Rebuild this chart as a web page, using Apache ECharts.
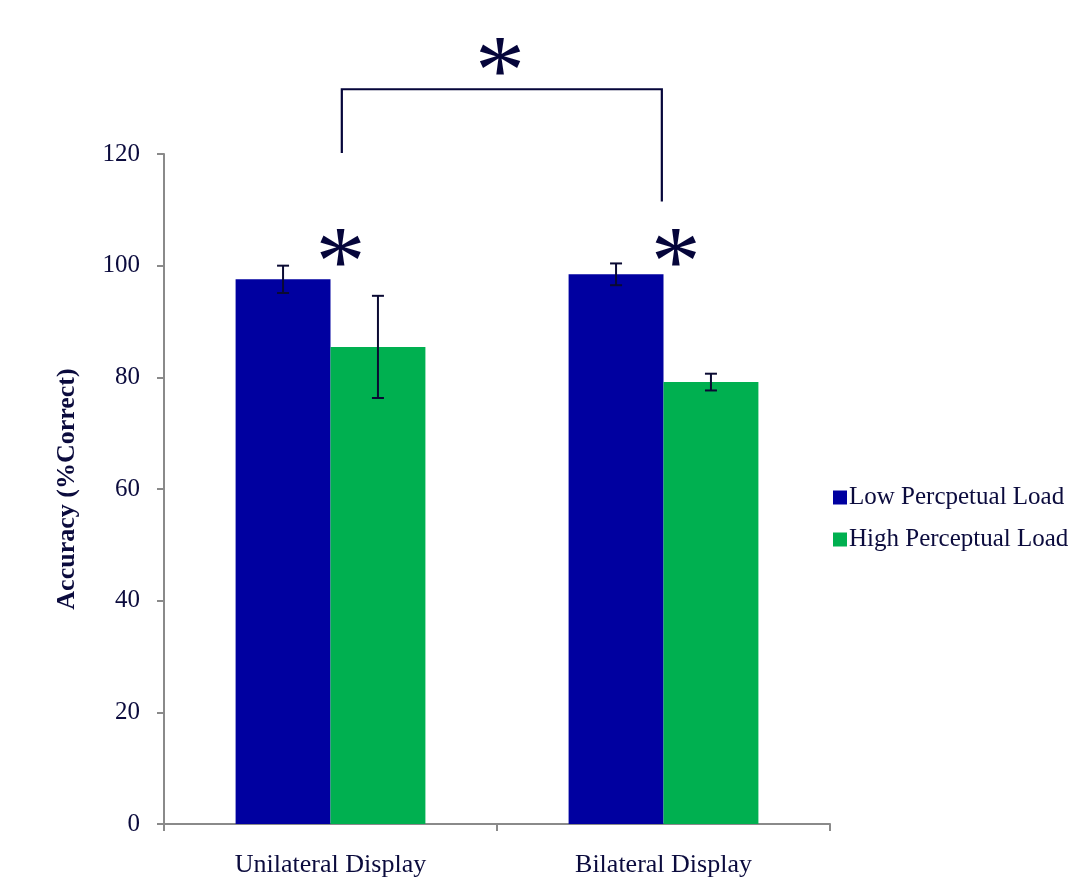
<!DOCTYPE html>
<html>
<head>
<meta charset="utf-8">
<style>
  html, body { margin: 0; padding: 0; background: #ffffff; }
  #chart { width: 1076px; height: 884px; }
</style>
<script src="https://cdn.jsdelivr.net/npm/echarts@6/dist/echarts.min.js"></script>
</head>
<body>
<div id="chart"></div>
<script>
// Accuracy by display type and perceptual load
const categories = ['Unilateral Display', 'Bilateral Display'];
const seriesNames = ['Low Percpetual Load', 'High Perceptual Load'];
const lowLoad = [97.55, 98.45];
const highLoad = [85.45, 79.15];
const lowLoadErr = [2.45, 1.95];
const highLoadErr = [9.15, 1.5];
const yTicks = [0, 20, 40, 60, 80, 100, 120];

// Significance annotations, in (category position, accuracy) units
const bracketX = [0.034, 0.995];
const bracketY = [120.2, 131.6, 111.5]; // left foot, top, right foot
const starMarks = [[0.03, 103.2], [1.037, 103.2], [0.509, 137.4]];

const TEXT = '#0b0b3d';
const FONT = 'Liberation Serif, Times New Roman, serif';
const BLUE = '#0000a0';
const GREEN = '#00b050';
const BAR_FRAC = 0.285;
// the asterisk glyph sits high in its em box; nudge it onto its anchor
const STAR_DROP = 20;

const chart = echarts.init(document.getElementById('chart'));

function errorItem(offsetSign, errs) {
  return function (params, api) {
    const i = api.value(0);
    const v = api.value(1);
    const e = errs[i];
    const band = api.size([1, 0])[0];
    const dx = offsetSign * band * BAR_FRAC / 2;
    const top = api.coord([i, v + e]);
    const bot = api.coord([i, v - e]);
    const x = top[0] + dx;
    const cap = 6;
    const style = { stroke: '#0a0a33', lineWidth: 2 };
    return {
      type: 'group',
      children: [
        { type: 'line', shape: { x1: x, y1: top[1], x2: x, y2: bot[1] }, style },
        { type: 'line', shape: { x1: x - cap, y1: top[1], x2: x + cap, y2: top[1] }, style },
        { type: 'line', shape: { x1: x - cap, y1: bot[1], x2: x + cap, y2: bot[1] }, style }
      ]
    };
  };
}

const option = {
  backgroundColor: '#ffffff',
  animation: false,
  textStyle: { fontFamily: FONT, color: TEXT },
  grid: { left: 164, right: 246, top: 154, bottom: 60, containLabel: false },
  legend: {
    orient: 'vertical',
    left: 828,
    top: 480,
    itemWidth: 14,
    itemHeight: 14,
    itemGap: 17,
    icon: 'rect',
    textStyle: { fontFamily: FONT, fontSize: 25, color: TEXT, padding: [0, 0, 0, -3] },
    data: seriesNames
  },
  xAxis: [
    {
      type: 'category',
      data: categories,
      boundaryGap: true,
      axisLine: { lineStyle: { color: '#8a8a8a', width: 2 } },
      axisTick: { show: true, length: 7, lineStyle: { color: '#8a8a8a', width: 2 } },
      axisLabel: { fontFamily: FONT, fontSize: 26, color: TEXT, margin: 28 }
    },
    {
      type: 'value',
      min: -0.5,
      max: 1.5,
      show: false
    }
  ],
  yAxis: {
    type: 'value',
    min: 0,
    max: 120,
    interval: 20,
    name: 'Accuracy (%Correct)',
    nameLocation: 'middle',
    nameRotate: 90,
    nameGap: 84,
    nameTextStyle: { fontFamily: FONT, fontSize: 26, fontWeight: 'bold', color: TEXT },
    splitLine: { show: false },
    axisLine: { show: true, onZero: false, lineStyle: { color: '#8a8a8a', width: 2 } },
    axisTick: { show: true, length: 7, lineStyle: { color: '#8a8a8a', width: 2 } },
    axisLabel: {
      fontFamily: FONT, fontSize: 25, color: TEXT, margin: 24,
      formatter: function (v) { return yTicks.indexOf(v) >= 0 ? String(v) : ''; }
    }
  },
  series: [
    {
      name: seriesNames[0],
      type: 'bar',
      data: lowLoad,
      barWidth: (BAR_FRAC * 100) + '%',
      barGap: '0%',
      itemStyle: { color: BLUE }
    },
    {
      name: seriesNames[1],
      type: 'bar',
      data: highLoad,
      barWidth: (BAR_FRAC * 100) + '%',
      barGap: '0%',
      itemStyle: { color: GREEN }
    },
    {
      type: 'custom',
      data: lowLoad.map((v, i) => [i, v]),
      renderItem: errorItem(-1, lowLoadErr),
      z: 5
    },
    {
      type: 'custom',
      data: highLoad.map((v, i) => [i, v]),
      renderItem: errorItem(1, highLoadErr),
      z: 5
    },
    {
      // significance bracket between the two displays
      type: 'custom',
      xAxisIndex: 1,
      clip: false,
      data: [[bracketX[0], bracketY[0]]],
      renderItem: function (params, api) {
        const a = api.coord([bracketX[0], bracketY[0]]);
        const b = api.coord([bracketX[0], bracketY[1]]);
        const c = api.coord([bracketX[1], bracketY[1]]);
        const d = api.coord([bracketX[1], bracketY[2]]);
        return {
          type: 'polyline',
          shape: { points: [a, b, c, d] },
          style: { stroke: '#05053a', lineWidth: 2.2, fill: null }
        };
      },
      z: 6
    },
    {
      // significance stars
      type: 'custom',
      xAxisIndex: 1,
      clip: false,
      data: starMarks,
      renderItem: function (params, api) {
        const p = api.coord([api.value(0), api.value(1)]);
        return {
          type: 'text',
          x: p[0],
          y: p[1] + STAR_DROP,
          style: {
            text: '*',
            fontFamily: FONT,
            fontSize: 100,
            fill: '#05053a',
            align: 'center',
            verticalAlign: 'middle'
          }
        };
      },
      z: 6
    }
  ]
};

chart.setOption(option);
</script>
</body>
</html>
